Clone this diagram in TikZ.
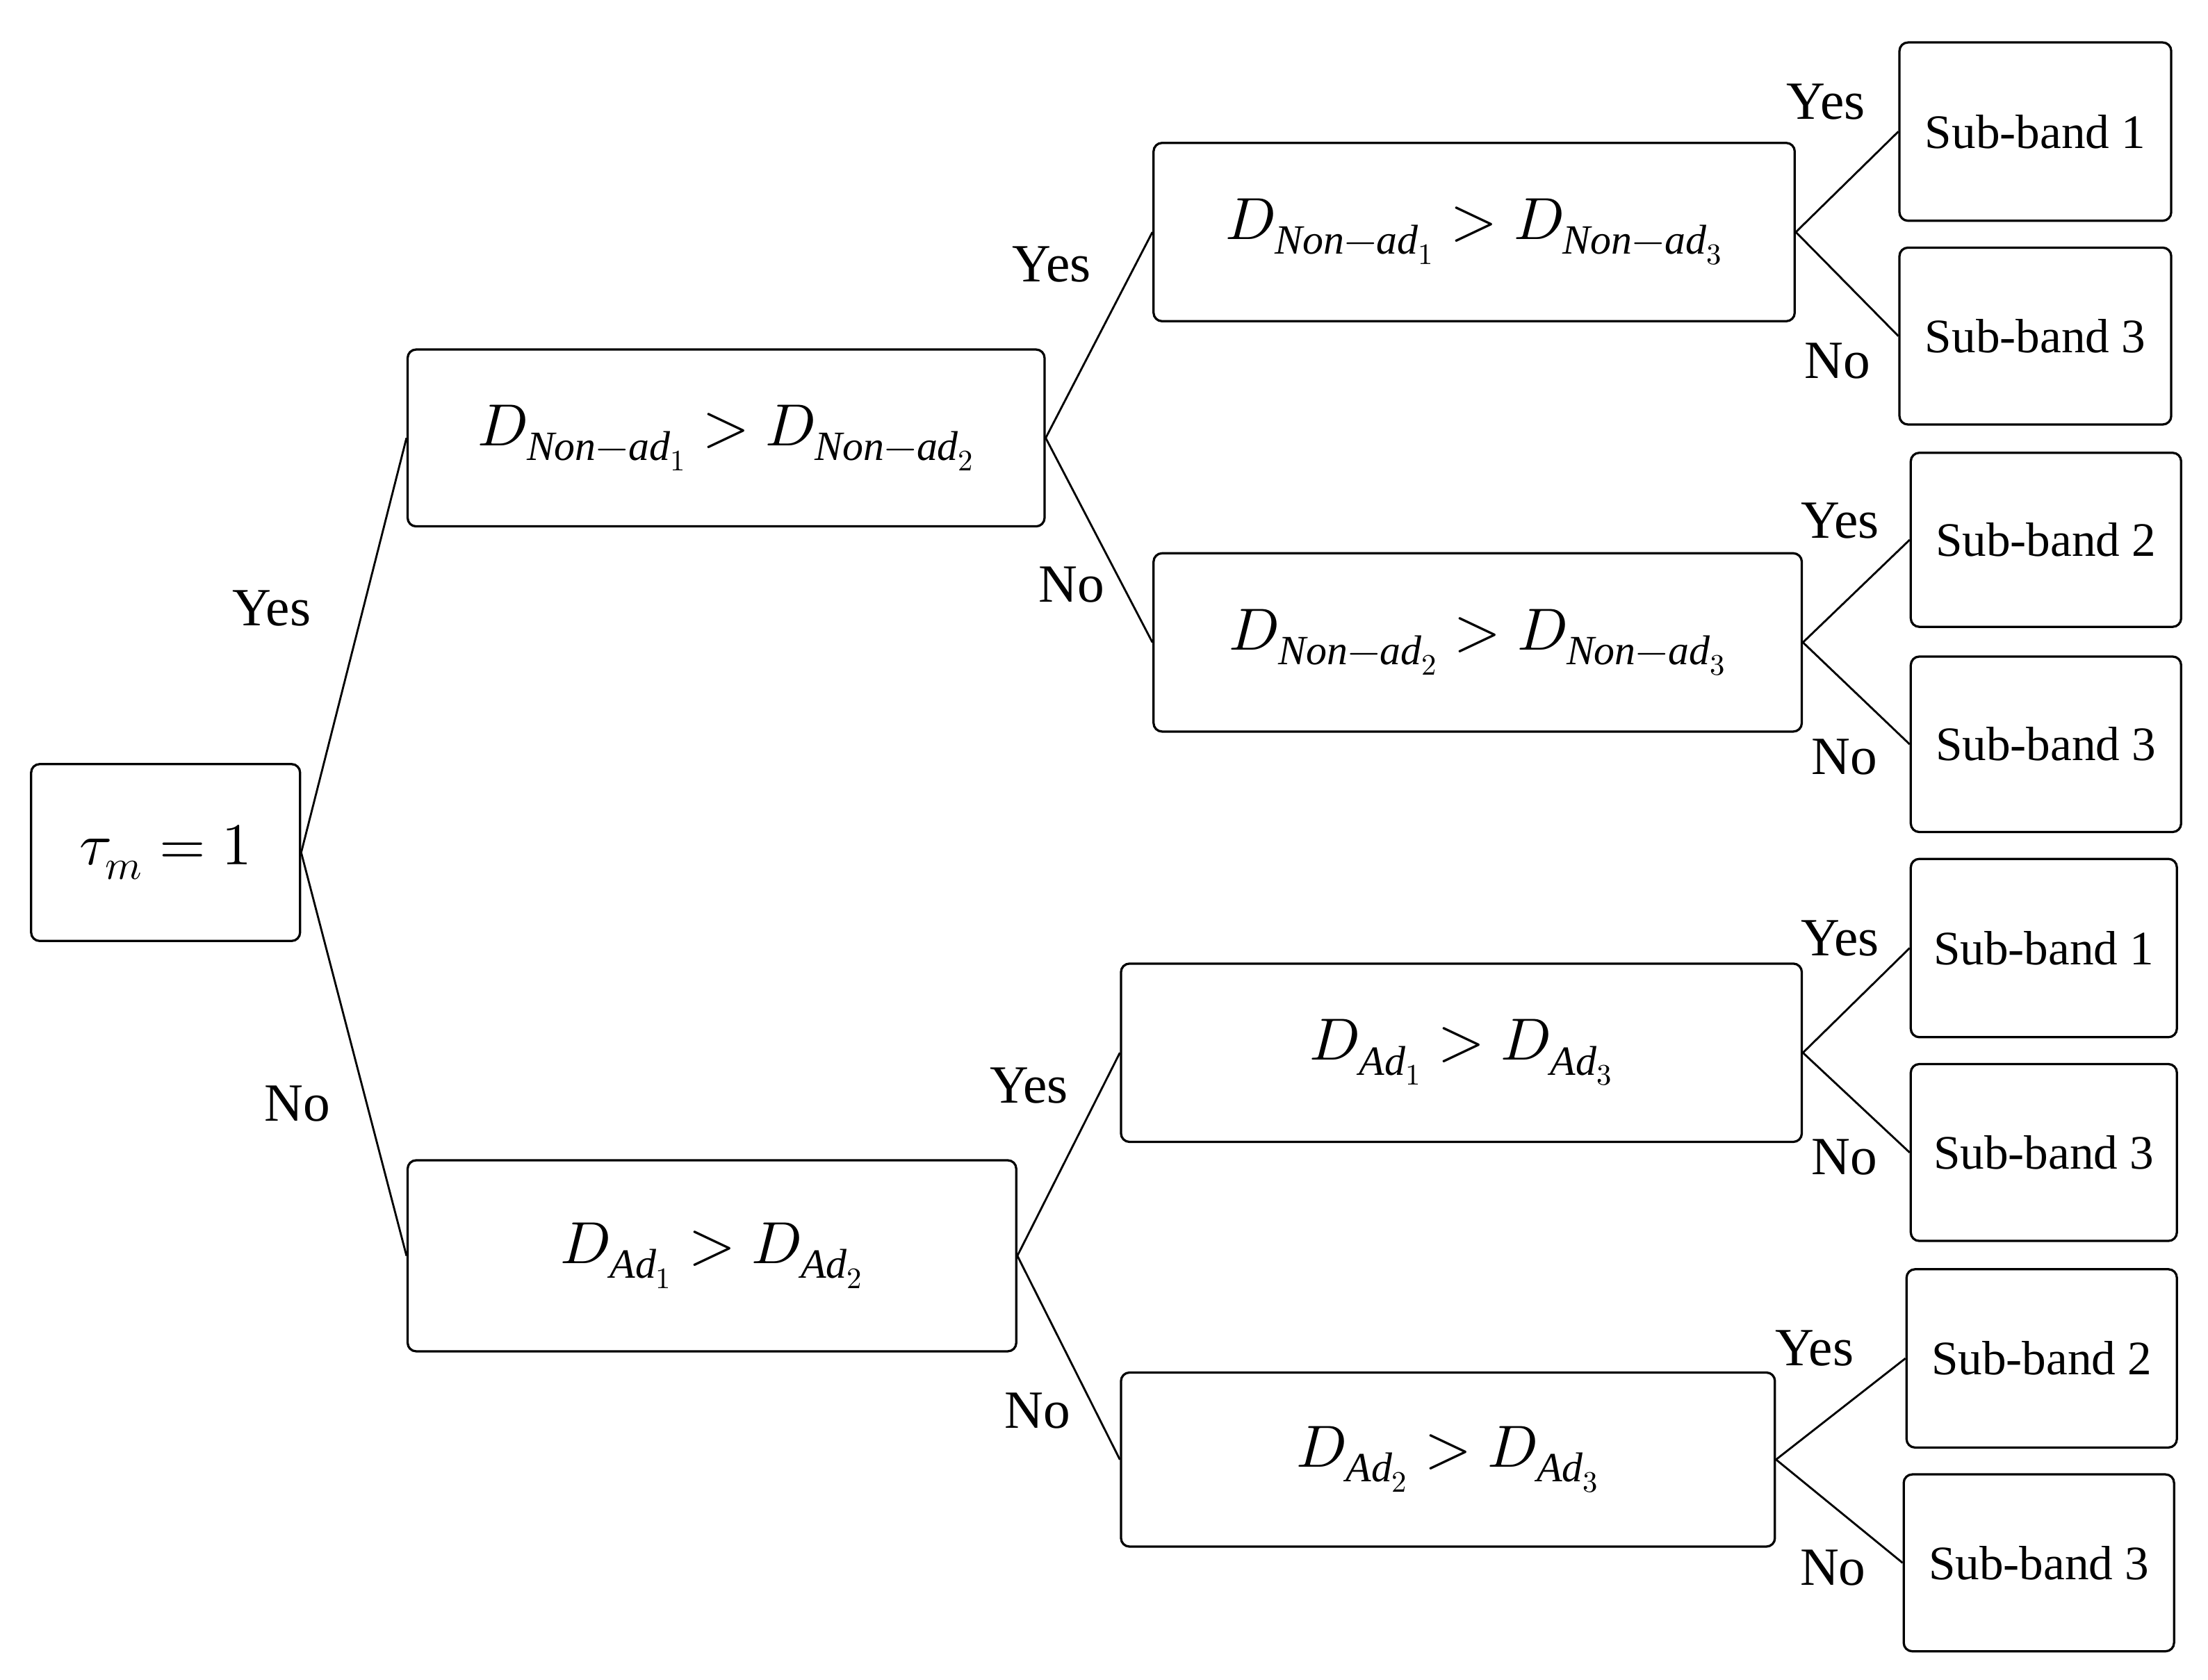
\documentclass[tikz,border=0pt]{standalone}
\usepackage{fontspec}
\usepackage{unicode-math}
\setmainfont{Liberation Serif}
\setmathfont{Latin Modern Math}
\begin{document}
\begin{tikzpicture}[x=1pt,y=-1pt,
  box/.style={draw,line width=1.6pt,rounded corners=6pt,inner sep=0pt},
  lab/.style={font=\fontsize{38}{44}\selectfont},
  ln/.style={line width=1.4pt}]
\useasboundingbox (0,0) rectangle (1560,1187);
\newcommand{\bx}[7]{\node[box,minimum width={#4-#2},minimum height={#5-#3},font=\fontsize{#7}{46}\selectfont] (#1) at ({(#2+#4)/2},{(#3+#5)/2}) {#6};}
\newcommand{\na}{\mathit{Non{-}ad}}
\bx{t}{22}{540}{212}{665}{$\tau_m = 1$}{42}
\bx{b1}{288}{247}{738}{372}{$D_{\na_1} > D_{\na_2}$}{42}
\bx{b2}{288}{820}{718}{955}{$D_{\mathit{Ad}_1} > D_{\mathit{Ad}_2}$}{42}
\bx{c1}{815}{101}{1268}{227}{$D_{\na_1} > D_{\na_3}$}{42}
\bx{c2}{815}{391}{1273}{517}{$D_{\na_2} > D_{\na_3}$}{42}
\bx{c3}{792}{681}{1273}{807}{$D_{\mathit{Ad}_1} > D_{\mathit{Ad}_3}$}{42}
\bx{c4}{792}{970}{1254}{1093}{$D_{\mathit{Ad}_2} > D_{\mathit{Ad}_3}$}{42}
\bx{l1}{1342}{30}{1534}{156}{Sub-band 1}{34}
\bx{l2}{1342}{175}{1534}{300}{Sub-band 3}{34}
\bx{l3}{1350}{320}{1541}{443}{Sub-band 2}{34}
\bx{l4}{1350}{464}{1541}{588}{Sub-band 3}{34}
\bx{l5}{1350}{607}{1538}{733}{Sub-band 1}{34}
\bx{l6}{1350}{752}{1538}{877}{Sub-band 3}{34}
\bx{l7}{1347}{897}{1538}{1023}{Sub-band 2}{34}
\bx{l8}{1345}{1042}{1536}{1167}{Sub-band 3}{34}
\foreach \p/\c in {t/b1,t/b2,b1/c1,b1/c2,b2/c3,b2/c4,c1/l1,c1/l2,c2/l3,c2/l4,c3/l5,c3/l6,c4/l7,c4/l8}
  \draw[ln] (\p.east) -- (\c.west);
\node[lab] at (192,430) {Yes};
\node[lab] at (210,780) {No};
\node[lab] at (743,187) {Yes};
\node[lab] at (757,413) {No};
\node[lab] at (727,767) {Yes};
\node[lab] at (733,997) {No};
\node[lab] at (1290,72) {Yes};
\node[lab] at (1298,255) {No};
\node[lab] at (1300,368) {Yes};
\node[lab] at (1303,535) {No};
\node[lab] at (1300,663) {Yes};
\node[lab] at (1303,818) {No};
\node[lab] at (1282,953) {Yes};
\node[lab] at (1295,1108) {No};
\end{tikzpicture}
\end{document}
